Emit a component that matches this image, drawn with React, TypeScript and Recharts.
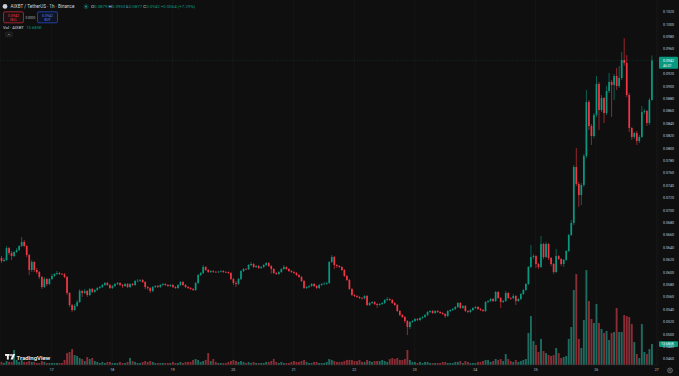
import React from "react";
import { Bar, CartesianGrid, ComposedChart, ReferenceLine, XAxis, YAxis } from "recharts";

const W = 679;
const H = 376;
const UP = "#089981";
const DOWN = "#f23645";
const VOL_UP = "#1e6b60";
const VOL_DOWN = "#8a2d35";
const FONT = "Roboto, 'Noto Sans', sans-serif";

// first candle: 16th, 04:00 (1h candles)
const firstDay = 16;
const firstHour = 4;
const firstOpen = 0.06232;

const closes = [
  0.06184, 0.062, 0.06393, 0.06313, 0.06264, 0.06329, 0.06361, 0.06426, 0.0649, 0.06426,
  0.0628, 0.06039, 0.06168, 0.06039, 0.06006, 0.05926, 0.05764, 0.05893, 0.05813, 0.05893,
  0.05942, 0.05974, 0.0599, 0.05974, 0.0597, 0.05926, 0.05668, 0.05474, 0.05393, 0.05458,
  0.05522, 0.057, 0.05668, 0.057, 0.05635, 0.05732, 0.05684, 0.05716, 0.05748, 0.05764,
  0.05797, 0.05829, 0.05797, 0.05748, 0.0578, 0.05813, 0.05829, 0.05797, 0.0578, 0.05813,
  0.05764, 0.05813, 0.05797, 0.05861, 0.05865, 0.05877, 0.05845, 0.05764, 0.05748, 0.057,
  0.05764, 0.0578, 0.05764, 0.05797, 0.05813, 0.05797, 0.0578, 0.05797, 0.05764, 0.05748,
  0.05797, 0.05845, 0.05797, 0.05764, 0.05748, 0.05732, 0.05716, 0.05829, 0.05958, 0.0599,
  0.06087, 0.06039, 0.06006, 0.06022, 0.0601, 0.06006, 0.06012, 0.06022, 0.06006, 0.06003,
  0.0599, 0.05893, 0.05829, 0.05813, 0.05893, 0.06022, 0.06055, 0.0605, 0.06119, 0.06135,
  0.06087, 0.06103, 0.06071, 0.06087, 0.06119, 0.06151, 0.06103, 0.06055, 0.0599, 0.05974,
  0.06006, 0.06055, 0.06087, 0.06055, 0.06022, 0.06006, 0.0599, 0.05958, 0.05926, 0.05861,
  0.05748, 0.05764, 0.0578, 0.05813, 0.0578, 0.05748, 0.05797, 0.05813, 0.05818, 0.05829,
  0.06168, 0.06248, 0.06119, 0.06103, 0.06087, 0.06039, 0.05942, 0.05877, 0.05732, 0.05635,
  0.05619, 0.05603, 0.05587, 0.05582, 0.05619, 0.05474, 0.05506, 0.05522, 0.0549, 0.05474,
  0.0549, 0.05506, 0.05555, 0.05571, 0.05555, 0.05506, 0.05474, 0.05377, 0.05313, 0.0528,
  0.05216, 0.05119, 0.052, 0.05216, 0.05248, 0.05232, 0.05264, 0.0528, 0.05313, 0.05361,
  0.05377, 0.05345, 0.05377, 0.05361, 0.05345, 0.05329, 0.05296, 0.05377, 0.05393, 0.05409,
  0.05442, 0.05506, 0.05426, 0.05458, 0.05377, 0.05361, 0.05393, 0.05426, 0.05442, 0.05409,
  0.05393, 0.05377, 0.05522, 0.05538, 0.05571, 0.05538, 0.05684, 0.05587, 0.05522, 0.05538,
  0.05668, 0.05587, 0.05584, 0.05619, 0.05538, 0.05571, 0.05651, 0.05716, 0.05813, 0.06087,
  0.06248, 0.06264, 0.06135, 0.06087, 0.06458, 0.06248, 0.06458, 0.06232, 0.06135, 0.06006,
  0.06264, 0.06216, 0.06135, 0.062, 0.06345, 0.06603, 0.06797, 0.077, 0.07426, 0.07248,
  0.0741, 0.07877, 0.08748, 0.08361, 0.082, 0.08539, 0.09039, 0.08619, 0.08813, 0.08571,
  0.08926, 0.09071, 0.09023, 0.09168, 0.09006, 0.09135, 0.09426, 0.09377, 0.08861, 0.08329,
  0.08184, 0.08248, 0.08119, 0.08184, 0.08587, 0.08603, 0.0841, 0.08781, 0.0942,
];

const highs = [
  0.06264, 0.06232, 0.06426, 0.0641, 0.06345, 0.06345, 0.06393, 0.06442, 0.06571, 0.06523,
  0.06442, 0.06297, 0.062, 0.06184, 0.06071, 0.06022, 0.05942, 0.05926, 0.0591, 0.0591,
  0.05974, 0.0599, 0.06022, 0.06006, 0.0599, 0.0599, 0.05942, 0.05684, 0.0549, 0.0549,
  0.05555, 0.05732, 0.05716, 0.05732, 0.05716, 0.05748, 0.05748, 0.05732, 0.05764, 0.0578,
  0.05813, 0.05845, 0.05845, 0.05813, 0.05797, 0.05829, 0.05845, 0.05845, 0.05813, 0.05829,
  0.05829, 0.05829, 0.05829, 0.05877, 0.05893, 0.05893, 0.05893, 0.05861, 0.0578, 0.05764,
  0.0578, 0.05797, 0.05797, 0.05813, 0.05829, 0.05829, 0.05813, 0.05813, 0.05813, 0.0578,
  0.05813, 0.05861, 0.05861, 0.05813, 0.0578, 0.05764, 0.05748, 0.05845, 0.05974, 0.06006,
  0.06119, 0.06103, 0.06055, 0.06039, 0.06039, 0.06022, 0.06022, 0.06039, 0.06039, 0.06022,
  0.06016, 0.06006, 0.0591, 0.05861, 0.0591, 0.06039, 0.06071, 0.06071, 0.06135, 0.06168,
  0.06151, 0.06119, 0.06119, 0.06103, 0.06135, 0.06168, 0.06168, 0.06119, 0.06071, 0.06006,
  0.06022, 0.06071, 0.06119, 0.06103, 0.06071, 0.06039, 0.06022, 0.06006, 0.05974, 0.05942,
  0.05877, 0.0578, 0.05797, 0.05829, 0.05829, 0.05797, 0.05813, 0.05829, 0.05845, 0.05845,
  0.06184, 0.0628, 0.06264, 0.06135, 0.06119, 0.06103, 0.06055, 0.05958, 0.05893, 0.05748,
  0.05651, 0.05635, 0.05619, 0.05603, 0.05635, 0.05635, 0.05522, 0.05538, 0.05538, 0.05506,
  0.05506, 0.05522, 0.05571, 0.05603, 0.05587, 0.05571, 0.05522, 0.0549, 0.05393, 0.05329,
  0.05296, 0.05232, 0.05216, 0.05232, 0.05264, 0.05264, 0.0528, 0.05296, 0.05329, 0.05377,
  0.05393, 0.05393, 0.05393, 0.05393, 0.05377, 0.05361, 0.05345, 0.05393, 0.05409, 0.05426,
  0.05458, 0.05522, 0.05522, 0.05474, 0.05474, 0.05393, 0.05409, 0.05442, 0.05458, 0.05458,
  0.05426, 0.05409, 0.05538, 0.05555, 0.05587, 0.05587, 0.057, 0.057, 0.05603, 0.05555,
  0.057, 0.05684, 0.05603, 0.05651, 0.05635, 0.05587, 0.05668, 0.05732, 0.05829, 0.06103,
  0.06442, 0.06297, 0.0628, 0.06151, 0.06587, 0.06474, 0.0649, 0.06474, 0.06248, 0.06151,
  0.06377, 0.0628, 0.06232, 0.06216, 0.06361, 0.0662, 0.06845, 0.07732, 0.08006, 0.07458,
  0.07442, 0.0791, 0.08942, 0.08781, 0.08393, 0.08571, 0.09168, 0.09071, 0.08861, 0.0883,
  0.09006, 0.09216, 0.09103, 0.09199, 0.09297, 0.09329, 0.09555, 0.09781, 0.09506, 0.08894,
  0.08345, 0.08264, 0.0828, 0.08216, 0.08684, 0.08635, 0.0862, 0.08813, 0.095,
];

const lows = [
  0.06151, 0.06168, 0.06184, 0.0628, 0.062, 0.06248, 0.06313, 0.06345, 0.0641, 0.06406,
  0.06248, 0.05958, 0.06006, 0.06006, 0.05974, 0.05893, 0.05732, 0.05748, 0.0578, 0.05797,
  0.05877, 0.05926, 0.05958, 0.05958, 0.05958, 0.0591, 0.05635, 0.05442, 0.05361, 0.05377,
  0.05442, 0.05506, 0.05603, 0.05651, 0.05603, 0.05619, 0.05668, 0.05668, 0.057, 0.05732,
  0.05748, 0.0578, 0.0578, 0.05732, 0.05732, 0.05764, 0.05797, 0.0578, 0.05748, 0.05764,
  0.05748, 0.05748, 0.0578, 0.0578, 0.05845, 0.05845, 0.05829, 0.05732, 0.05716, 0.05668,
  0.05684, 0.05748, 0.05748, 0.05748, 0.0578, 0.0578, 0.05764, 0.05764, 0.05748, 0.05732,
  0.05732, 0.0578, 0.0578, 0.05748, 0.05732, 0.05716, 0.057, 0.057, 0.05813, 0.05942,
  0.05974, 0.06022, 0.0599, 0.0599, 0.0599, 0.0599, 0.0599, 0.05998, 0.0599, 0.0599,
  0.05974, 0.05877, 0.05797, 0.05764, 0.05797, 0.05877, 0.06006, 0.06039, 0.06039, 0.06103,
  0.06071, 0.06071, 0.06055, 0.06055, 0.06071, 0.06103, 0.06087, 0.0598, 0.05974, 0.05958,
  0.05958, 0.0599, 0.06039, 0.06039, 0.06006, 0.0599, 0.05974, 0.05942, 0.0591, 0.05845,
  0.05732, 0.05732, 0.05748, 0.05764, 0.05764, 0.05732, 0.05732, 0.0578, 0.05797, 0.058,
  0.05813, 0.06151, 0.06055, 0.06071, 0.06071, 0.06022, 0.05926, 0.05861, 0.05716, 0.05619,
  0.05603, 0.05587, 0.05571, 0.05565, 0.05565, 0.05458, 0.05458, 0.0549, 0.05474, 0.05426,
  0.05458, 0.05474, 0.0549, 0.05538, 0.05538, 0.0549, 0.05458, 0.05361, 0.05296, 0.05264,
  0.05184, 0.0499, 0.05087, 0.05184, 0.052, 0.05216, 0.05216, 0.05248, 0.05264, 0.05296,
  0.05345, 0.05329, 0.05329, 0.05345, 0.05329, 0.05313, 0.05264, 0.0528, 0.05361, 0.05377,
  0.05393, 0.05426, 0.05409, 0.05409, 0.05361, 0.05345, 0.05345, 0.05377, 0.05409, 0.05393,
  0.05377, 0.05361, 0.05361, 0.05506, 0.05522, 0.05522, 0.05522, 0.05571, 0.05426, 0.05506,
  0.05522, 0.05571, 0.05555, 0.05571, 0.05474, 0.05522, 0.05555, 0.05635, 0.057, 0.05797,
  0.06071, 0.06216, 0.06071, 0.06055, 0.06071, 0.06216, 0.06232, 0.062, 0.06103, 0.05974,
  0.0599, 0.062, 0.06103, 0.06087, 0.06184, 0.06329, 0.06587, 0.06764, 0.07394, 0.07055,
  0.07087, 0.07377, 0.07845, 0.08297, 0.08055, 0.08168, 0.08506, 0.08297, 0.08587, 0.0841,
  0.08539, 0.08894, 0.08506, 0.08781, 0.08942, 0.08974, 0.09103, 0.09329, 0.08829, 0.08264,
  0.08135, 0.08152, 0.08055, 0.08087, 0.08168, 0.08555, 0.08361, 0.08377, 0.0877,
];

// volume in thousands of AIXBT
const volumesK = [
  2.0, 1.3, 2.6, 2.0, 2.0, 9.8, 3.3, 2.0, 3.3, 2.0,
  2.0, 2.6, 2.0, 2.0, 1.3, 1.3, 2.6, 2.0, 1.3, 1.3,
  1.3, 1.3, 1.3, 1.3, 1.3, 3.3, 7.8, 8.5, 10.4, 6.5,
  5.9, 4.6, 3.9, 2.6, 5.2, 3.9, 4.6, 2.6, 2.0, 1.3,
  2.0, 1.3, 2.0, 2.0, 1.3, 1.3, 1.3, 2.0, 1.3, 1.3,
  2.0, 4.6, 2.6, 2.0, 1.3, 1.3, 2.0, 2.6, 2.0, 2.6,
  2.0, 1.3, 1.3, 1.3, 1.3, 1.3, 1.3, 1.3, 2.0, 1.3,
  1.3, 2.0, 1.3, 2.0, 2.0, 2.0, 3.3, 3.9, 3.3, 2.0,
  2.6, 3.3, 7.8, 2.6, 3.9, 2.0, 1.3, 1.3, 1.3, 1.3,
  2.0, 2.6, 3.3, 2.6, 2.0, 2.6, 2.0, 1.3, 2.0, 1.3,
  2.0, 1.3, 1.3, 1.3, 1.3, 2.0, 2.0, 2.6, 3.9, 2.0,
  1.3, 2.0, 1.3, 1.3, 1.3, 2.0, 2.6, 2.0, 2.0, 2.6,
  3.3, 2.0, 1.3, 1.3, 2.0, 2.0, 1.3, 1.3, 1.3, 2.0,
  3.9, 3.3, 2.6, 2.0, 2.0, 2.0, 2.6, 3.3, 3.3, 3.3,
  2.6, 2.6, 3.3, 2.0, 2.0, 3.3, 2.6, 2.0, 2.6, 2.6,
  2.6, 3.3, 2.6, 2.0, 3.9, 4.6, 3.9, 4.6, 3.3, 3.3,
  3.9, 9.8, 3.3, 2.0, 2.0, 1.3, 2.0, 1.3, 2.0, 2.0,
  1.3, 1.3, 1.3, 1.3, 1.3, 2.0, 2.0, 1.3, 1.3, 1.3,
  2.0, 2.0, 2.6, 1.3, 2.6, 2.0, 1.3, 1.3, 1.3, 2.0,
  2.0, 2.6, 3.3, 3.3, 2.0, 2.6, 3.9, 3.3, 3.9, 2.6,
  7.2, 3.9, 2.6, 2.0, 3.3, 2.0, 2.6, 3.3, 3.9, 20.9,
  31.9, 15.6, 13.0, 8.5, 17.0, 9.1, 7.8, 6.5, 5.9, 6.5,
  11.1, 7.8, 4.6, 5.2, 5.9, 17.0, 24.8, 48.9, 59.3, 17.0,
  11.1, 29.3, 61.9, 41.7, 30.0, 27.4, 39.8, 27.4, 23.5, 20.9,
  22.2, 16.3, 20.9, 21.5, 37.2, 21.5, 21.5, 32.6, 31.9, 31.3,
  26.7, 15.0, 7.2, 4.6, 26.7, 8.5, 7.2, 10.4, 13.685,
];

const priceTicks = [
  0.046, 0.048, 0.05, 0.052, 0.054, 0.056, 0.058, 0.06, 0.062, 0.064, 0.066, 0.068, 0.07,
  0.072, 0.074, 0.076, 0.078, 0.08, 0.082, 0.084, 0.086, 0.088, 0.09, 0.092, 0.096, 0.098,
  0.1, 0.102,
];

const emptySlots = 2; // room on the right before the price scale

const data = Array.from({ length: closes.length + emptySlots }, (_, i) => {
  const h = firstHour + i;
  const row: any = { i, day: firstDay + Math.floor(h / 24), hour: h % 24 };
  if (i < closes.length) {
    const open = i === 0 ? firstOpen : closes[i - 1];
    row.open = open;
    row.close = closes[i];
    row.high = highs[i];
    row.low = lows[i];
    row.range = [lows[i], highs[i]];
    row.vol = volumesK[i];
    row.up = closes[i] >= open;
  }
  return row;
});

const dayTicks = data.filter((d) => d.hour === 0).map((d) => d.i);
const dayLabel = (i: number) => String(data[i]?.day ?? "");

const lastClose = closes[closes.length - 1];
const lastVol = volumesK[volumesK.length - 1];

const Candle = (props: any) => {
  const { x, y, width, height, payload } = props;
  if (!payload || payload.close == null || !isFinite(y)) return <g />;
  const { open, close, high, low } = payload;
  const k = high > low ? height / (high - low) : 0;
  const cx = x + width / 2;
  const top = y + (high - Math.max(open, close)) * k;
  const bot = y + (high - Math.min(open, close)) * k;
  const color = close >= open ? UP : DOWN;
  const bw = 1.7;
  return (
    <g>
      <line x1={cx} x2={cx} y1={y} y2={y + height} stroke={color} strokeWidth={0.6} />
      <rect x={cx - bw / 2} y={top} width={bw} height={Math.max(bot - top, 0.6)} fill={color} />
    </g>
  );
};

const VolBar = (props: any) => {
  const { x, y, width, height, payload } = props;
  if (!payload || payload.vol == null || !isFinite(y)) return <g />;
  const bw = 1.9;
  return (
    <rect
      x={x + width / 2 - bw / 2}
      y={y}
      width={bw}
      height={Math.max(height, 0)}
      fill={payload.up ? VOL_UP : VOL_DOWN}
    />
  );
};

const PriceTag = ({ viewBox }: any) => {
  if (!viewBox) return null;
  const x = viewBox.x + viewBox.width;
  const y = viewBox.y;
  return (
    <g>
      <rect x={x + 1} y={y - 3.6} width={W - x - 2} height={12} rx={1} fill={UP} />
      <text x={x + 5} y={y + 1.3} fontSize={3.6} fill="#ffffff" fontFamily={FONT}>
        {lastClose.toFixed(4)}
      </text>
      <text x={x + 5} y={y + 6.3} fontSize={3.4} fill="#e6f5f1" fontFamily={FONT}>
        46:07
      </text>
    </g>
  );
};

const VolTag = ({ viewBox }: any) => {
  if (!viewBox) return null;
  const x = viewBox.x + viewBox.width;
  const y = viewBox.y;
  return (
    <g>
      <rect x={x + 1} y={y - 2.8} width={W - x - 2} height={5.8} rx={1} fill={UP} />
      <text x={x + 3} y={y + 1.3} fontSize={3.5} fill="#ffffff" fontFamily={FONT}>
        {lastVol.toFixed(3)}K
      </text>
    </g>
  );
};

const Overlay = () => (
  <svg
    width={W}
    height={H}
    style={{ position: "absolute", left: 0, top: 0, pointerEvents: "none" }}
    fontFamily={FONT}
  >
    {/* symbol line */}
    <circle cx={5} cy={6.4} r={2.4} fill="#c9cedb" />
    <text x={10.5} y={8.1} fontSize={4.6} fill="#d1d4dc">
      AIXBT / TetherUS · 1h · Binance
    </text>
    <circle cx={86} cy={6.6} r={2} fill="none" stroke="#0b4f44" strokeWidth={0.8} />
    <circle cx={86} cy={6.6} r={1.1} fill={UP} />
    <text x={91} y={8.1} fontSize={4.4} fill="#d1d4dc">
      O<tspan fill={UP}>0.0879</tspan> H<tspan fill={UP}>0.0950</tspan> L
      <tspan fill={UP}>0.0877</tspan> C<tspan fill={UP}>0.0942</tspan>
      <tspan fill={UP}> +0.0064 (+7.29%)</tspan>
    </text>

    {/* sell / buy buttons */}
    <rect x={3.5} y={11.8} width={20} height={11} rx={1.5} fill="#1c1012" stroke={DOWN} strokeWidth={0.6} />
    <text x={13.5} y={16.6} fontSize={3.5} fill={DOWN} textAnchor="middle">0.0942</text>
    <text x={13.5} y={21.2} fontSize={3.1} fill={DOWN} textAnchor="middle">SELL</text>
    <text x={30.3} y={18.6} fontSize={3.2} fill="#b2b5be" textAnchor="middle">0.0000</text>
    <rect x={37.5} y={11.8} width={20} height={11} rx={1.5} fill="#0f1424" stroke="#2962ff" strokeWidth={0.6} />
    <text x={47.5} y={16.6} fontSize={3.5} fill="#4f7dff" textAnchor="middle">0.0942</text>
    <text x={47.5} y={21.2} fontSize={3.1} fill="#4f7dff" textAnchor="middle">BUY</text>

    {/* volume legend */}
    <text x={3} y={28.6} fontSize={4.2} fill="#d1d4dc">
      Vol · AIXBT <tspan fill={UP} dx={1.5}>13.685K</tspan>
    </text>
    <rect x={5.5} y={32} width={7} height={5} rx={1} fill="#1a1a1a" stroke="#2c2c2c" strokeWidth={0.5} />
    <path d="M7.7 35.4 L9 34 L10.3 35.4" fill="none" stroke="#b2b5be" strokeWidth={0.5} />

    {/* TradingView mark */}
    <rect x={5} y={354} width={4.6} height={1.9} fill="#f0f0f0" />
    <rect x={6.9} y={354} width={1.9} height={5.6} fill="#f0f0f0" />
    <circle cx={11} cy={355} r={0.95} fill="#f0f0f0" />
    <path d="M12.6 354 L15.2 354 L12.9 359.6 L10.6 359.6 Z" fill="#f0f0f0" />
    <text x={16.6} y={359.6} fontSize={6} fontWeight={600} fill="#f0f0f0">
      TradingView
    </text>

    {/* scale settings icon */}
    <circle cx={670} cy={370.4} r={2.4} fill="none" stroke="#a0a3ab" strokeWidth={0.6} />
    <circle cx={670} cy={370.4} r={0.9} fill="none" stroke="#a0a3ab" strokeWidth={0.5} />
  </svg>
);

export default function App() {
  return (
    <div style={{ position: "fixed", left: 0, top: 0, width: W, height: H, background: "#0f0f0f", overflow: "hidden" }}>
      <ComposedChart width={W} height={H} data={data} margin={{ top: 0, right: 0, bottom: 0, left: 0 }} barCategoryGap={0}>
        <CartesianGrid xAxisId="main" yAxisId="price" horizontal={false} stroke="#1b1b1b" strokeWidth={0.6} />
        <XAxis
          xAxisId="main"
          dataKey="i"
          type="category"
          ticks={dayTicks}
          interval={0}
          tickFormatter={dayLabel}
          height={11}
          tickSize={0}
          tickMargin={3.5}
          axisLine={{ stroke: "#262626", strokeWidth: 0.6 }}
          tick={{ fill: "#c3c6ce", fontSize: 3.4, fontFamily: FONT }}
        />
        <XAxis xAxisId="vol" dataKey="i" type="category" hide />
        <YAxis
          yAxisId="price"
          orientation="right"
          width={21}
          domain={[0.045065, 0.103935]}
          allowDataOverflow
          ticks={priceTicks}
          interval={0}
          tickFormatter={(v: number) => v.toFixed(4)}
          tickSize={0}
          tickMargin={5}
          axisLine={false}
          tick={{ fill: "#c3c6ce", fontSize: 3.6, fontFamily: FONT, textAnchor: "start" }}
        />
        <YAxis yAxisId="vol" hide domain={[0, 238]} allowDataOverflow />
        <Bar xAxisId="vol" yAxisId="vol" dataKey="vol" shape={VolBar} isAnimationActive={false} />
        <Bar xAxisId="main" yAxisId="price" dataKey="range" shape={Candle} isAnimationActive={false} />
        <ReferenceLine
          xAxisId="main"
          yAxisId="price"
          y={lastClose}
          stroke={UP}
          strokeOpacity={0.45}
          strokeWidth={0.5}
          strokeDasharray="1 1.5"
          label={(p: any) => <PriceTag viewBox={p.viewBox} />}
        />
        <ReferenceLine
          xAxisId="vol"
          yAxisId="vol"
          y={lastVol}
          stroke="none"
          label={(p: any) => <VolTag viewBox={p.viewBox} />}
        />
      </ComposedChart>
      <Overlay />
    </div>
  );
}
